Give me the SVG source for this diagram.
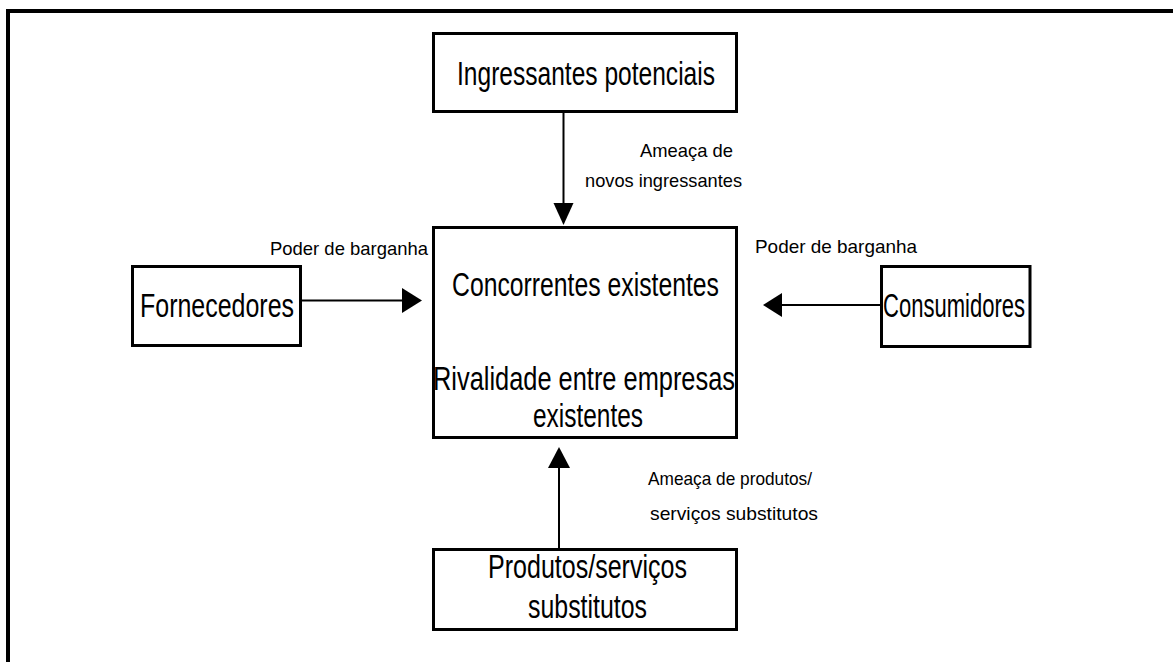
<svg xmlns="http://www.w3.org/2000/svg" width="1173" height="662" viewBox="0 0 1173 662">
<style>
.box{fill:#fff;stroke:#000;stroke-width:3}
.big{font-family:"Liberation Sans",Arial,sans-serif;font-size:33px;fill:#000}
.small{font-family:"Liberation Sans",Arial,sans-serif;font-size:19px;fill:#000}
.ln{stroke:#000;stroke-width:2;fill:none}
.hd{fill:#000}
</style>
<rect width="1173" height="662" fill="#fff"/>
<path d="M8,662 V11 H1173" fill="none" stroke="#000" stroke-width="4"/>
<g id="connectors">
<line class="ln" x1="563.5" y1="112" x2="563.5" y2="204"/>
<polygon class="hd" points="553.5,203 573.5,203 563.5,225"/>
<line class="ln" x1="302" y1="300.5" x2="403" y2="300.5"/>
<polygon class="hd" points="402,288 422,300.5 402,313"/>
<line class="ln" x1="880" y1="305" x2="781" y2="305"/>
<polygon class="hd" points="782,293 763,305 782,317"/>
<line class="ln" x1="559" y1="549" x2="559" y2="467"/>
<polygon class="hd" points="548,468 570,468 559,447"/>
<text class="small" x="640" y="157" textLength="93" lengthAdjust="spacingAndGlyphs">Ameaça de</text>
<text class="small" x="585" y="187" textLength="157" lengthAdjust="spacingAndGlyphs">novos ingressantes</text>
<text class="small" x="270" y="255" textLength="158" lengthAdjust="spacingAndGlyphs">Poder de barganha</text>
<text class="small" x="755" y="253" textLength="162" lengthAdjust="spacingAndGlyphs">Poder de barganha</text>
<text class="small" x="648" y="485" textLength="164" lengthAdjust="spacingAndGlyphs">Ameaça de produtos/</text>
<text class="small" x="650" y="520" textLength="168" lengthAdjust="spacingAndGlyphs">serviços substitutos</text>
</g>
<g id="ingressantes">
<rect class="box" x="433.5" y="33.5" width="303" height="78"/>
<text class="big" x="457" y="85" textLength="258" lengthAdjust="spacingAndGlyphs">Ingressantes potenciais</text>
</g>
<g id="concorrentes">
<rect class="box" x="433.5" y="227.5" width="303" height="210"/>
<text class="big" x="452" y="296" textLength="267" lengthAdjust="spacingAndGlyphs">Concorrentes existentes</text>
<text class="big" x="433" y="390" textLength="302" lengthAdjust="spacingAndGlyphs">Rivalidade entre empresas</text>
<text class="big" x="533" y="427" textLength="110" lengthAdjust="spacingAndGlyphs">existentes</text>
</g>
<g id="fornecedores">
<rect class="box" x="132.5" y="266.5" width="168" height="79"/>
<text class="big" x="140" y="317" textLength="154" lengthAdjust="spacingAndGlyphs">Fornecedores</text>
</g>
<g id="consumidores">
<rect class="box" x="881.5" y="266.5" width="148.5" height="80"/>
<text class="big" x="883" y="317" textLength="142" lengthAdjust="spacingAndGlyphs">Consumidores</text>
</g>
<g id="substitutos">
<rect class="box" x="433.5" y="549.5" width="303" height="80"/>
<text class="big" x="488" y="578" textLength="199" lengthAdjust="spacingAndGlyphs">Produtos/serviços</text>
<text class="big" x="528" y="618" textLength="119" lengthAdjust="spacingAndGlyphs">substitutos</text>
</g>
</svg>
